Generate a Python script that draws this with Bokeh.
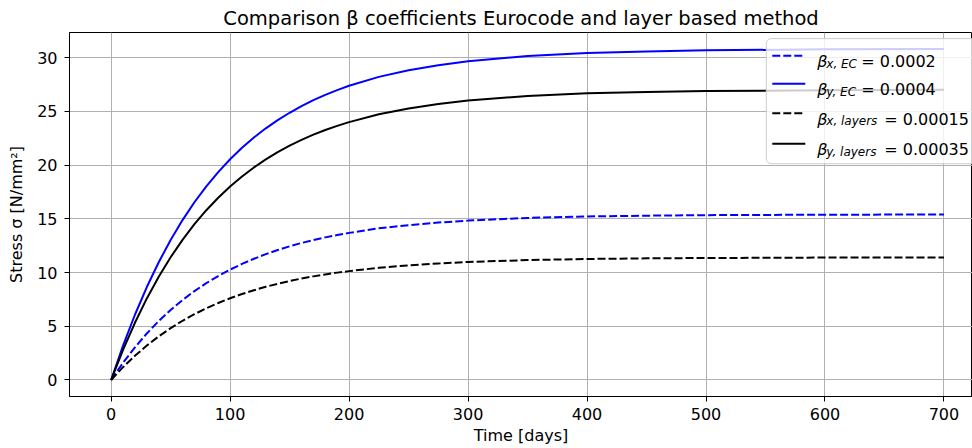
from bokeh.plotting import figure
from bokeh.models import FixedTicker, Label, Range1d
from bokeh.embed import file_html
from bokeh.resources import INLINE

# ---- data ----
time_days = [0, 10, 20, 30, 40, 50, 60, 70, 80, 90, 100, 110, 120, 130, 140, 150,
             160, 170, 180, 190, 200, 225, 250, 275, 300, 350, 400, 450, 500, 600, 700]
beta_x_ec = [0, 1.60, 3.03, 4.33, 5.48, 6.51, 7.44, 8.27, 9.01, 9.67, 10.27,
             10.80, 11.28, 11.71, 12.09, 12.44, 12.75, 13.02, 13.27, 13.49, 13.69,
             14.11, 14.41, 14.65, 14.83, 15.08, 15.22, 15.29, 15.34, 15.38, 15.40]
beta_y_ec = [0, 3.20, 6.07, 8.65, 10.96, 13.03, 14.88, 16.54, 18.02, 19.34, 20.54,
             21.61, 22.56, 23.42, 24.19, 24.87, 25.49, 26.04, 26.54, 26.98, 27.38,
             28.21, 28.83, 29.29, 29.66, 30.15, 30.43, 30.58, 30.68, 30.77, 30.80]
beta_x_layers = [0, 1.19, 2.25, 3.20, 4.06, 4.82, 5.51, 6.12, 6.67, 7.16, 7.60,
                 8.00, 8.35, 8.67, 8.95, 9.21, 9.44, 9.64, 9.82, 9.99, 10.13,
                 10.44, 10.67, 10.84, 10.98, 11.16, 11.26, 11.32, 11.35, 11.39, 11.40]
beta_y_layers = [0, 2.81, 5.32, 7.59, 9.61, 11.42, 13.04, 14.50, 15.80, 16.96, 18.01,
                 18.94, 19.78, 20.53, 21.20, 21.81, 22.35, 22.83, 23.27, 23.65, 24.00,
                 24.73, 25.27, 25.68, 26.00, 26.43, 26.68, 26.81, 26.89, 26.97, 27.00]

x_ticks = [0, 100, 200, 300, 400, 500, 600, 700]
y_ticks = [0, 5, 10, 15, 20, 25, 30]

legend_subs = ["x, EC", "y, EC", "x, layers", "y, layers"]
legend_vals = ["= 0.0002", "= 0.0004", "= 0.00015", "= 0.00035"]

FONT = "DejaVu Sans"

p = figure(width=972, height=448, output_backend="svg", toolbar_location=None,
           x_range=Range1d(-35, 724), y_range=Range1d(-1.54, 32.34),
           min_border_left=69, min_border_right=0, min_border_top=32, min_border_bottom=52,
           title="Comparison β coefficients Eurocode and layer based method")

p.title.align = "center"
p.title.text_font = FONT
p.title.text_font_size = "19.5px"
p.title.text_font_style = "normal"
p.title.text_color = "black"
p.title.standoff = 6

p.outline_line_color = "black"
p.outline_line_width = 1
p.outline_line_alpha = 1

for ax, ticks in ((p.xaxis[0], x_ticks), (p.yaxis[0], y_ticks)):
    ax.ticker = FixedTicker(ticks=ticks)
    ax.minor_tick_line_color = None
    ax.major_tick_in = 0
    ax.major_tick_out = 5
    ax.major_tick_line_color = "black"
    ax.axis_line_color = "black"
    ax.major_label_text_font = FONT
    ax.major_label_text_font_size = "16px"
    ax.major_label_text_color = "black"
    ax.axis_label_text_font = FONT
    ax.axis_label_text_font_size = "16px"
    ax.axis_label_text_font_style = "normal"
    ax.axis_label_text_color = "black"

p.xaxis.axis_label = "Time [days]"
p.yaxis.axis_label = "Stress σ [N/mm²]"
p.xaxis.major_label_standoff = 6
p.xaxis.axis_label_standoff = 3
p.yaxis.major_label_standoff = 7
p.yaxis.axis_label_standoff = 8

p.grid.grid_line_color = "#b0b0b0"
p.grid.grid_line_width = 1
p.background_fill_color = "white"

BLUE = "#0000ff"
series = [(beta_x_ec, BLUE, "8 3"), (beta_y_ec, BLUE, "solid"),
          (beta_x_layers, "black", "8 3"), (beta_y_layers, "black", "solid")]
for ys, col, dash in series:
    p.line(time_days, ys, line_color=col, line_width=2, line_dash=dash)

# ---- manual legend (pixel positions converted to data coords) ----
def dx(px):
    return (px - 110.7) / 1.19

def dy(py):
    return (379.0 - py) / 10.733

p.quad(left=[dx(766)], right=[dx(1000)], top=[dy(38)], bottom=[dy(163)],
       fill_color="white", fill_alpha=0.8, line_color="#cccccc", line_width=1,
       border_radius=5)

rows_py = [55, 83, 112.5, 143]
for i, (ys, col, dash) in enumerate(series):
    py = rows_py[i]
    p.line([dx(772), dx(805)], [dy(py), dy(py)], line_color=col, line_width=2,
           line_dash=dash)
    p.add_layout(Label(x=dx(817), y=dy(py + 6), text="β", text_font=FONT,
                       text_font_style="italic", text_font_size="16px",
                       text_baseline="alphabetic", text_color="black"))
    p.add_layout(Label(x=dx(826), y=dy(py + 8), text=legend_subs[i], text_font=FONT,
                       text_font_style="italic", text_font_size="12px",
                       text_baseline="alphabetic", text_color="black"))
    eq_px = 861 if i < 2 else 884
    p.add_layout(Label(x=dx(eq_px), y=dy(py + 6), text=legend_vals[i], text_font=FONT,
                       text_font_size="16px", text_baseline="alphabetic",
                       text_color="black"))

open("out.html", "w").write(file_html(p, INLINE))
